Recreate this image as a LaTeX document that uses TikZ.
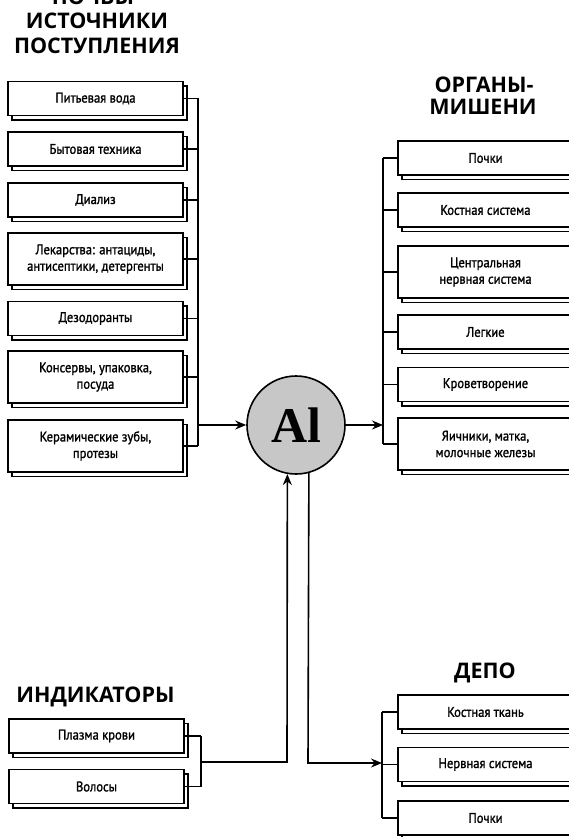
\documentclass[tikz,border=0pt]{standalone}
\usepackage{fontspec}
\usetikzlibrary{shadows,arrows.meta}
\newfontfamily\hfont{Open Sans}
\newfontfamily\bfont[FakeStretch=0.9,FakeBold=1.3]{PT Sans}
\newfontfamily\alfont{Liberation Serif}
\tikzset{
  boxstyle/.style={draw, line width=1.7pt, fill=white, minimum width=175pt, align=center,
    inner sep=0pt, font=\bfont\fontsize{14}{16.5}\selectfont,
    copy shadow={shadow xshift=4pt, shadow yshift=-4.5pt}},
  onel/.style={boxstyle, minimum height=34pt},
  twol/.style={boxstyle, minimum height=52pt},
  head/.style={font=\hfont\bfseries\fontsize{21.5}{24}\selectfont, anchor=base, inner sep=0pt},
  conn/.style={line width=1.6pt},
  arr/.style={line width=1.6pt, -{Stealth[length=11pt,width=9pt]}},
}
\begin{document}
\begin{tikzpicture}[x=1pt,y=-1pt]
\useasboundingbox (0,0) rectangle (569,837);
% headings
\node[head] (h0) at (93,5) {ПОЧВЫ};
\node[head] (h1) at (97,29) {ИСТОЧНИКИ};
\node[head] (h2) at (97,54) {ПОСТУПЛЕНИЯ};
\node[head] (h3) at (484,93) {ОРГАНЫ-};
\node[head] (h4) at (483,115) {МИШЕНИ};
\node[head] (h5) at (95.5,702) {ИНДИКАТОРЫ};
\node[head] (h6) at (485,678) {ДЕПО};
% source boxes
\node[onel] (s1) at (95.5,98.5) {Питьевая вода};
\node[onel] (s2) at (95.5,149) {Бытовая техника};
\node[onel] (s3) at (95.5,200) {Диализ};
\node[twol] (s4) at (95.5,259) {Лекарства: антациды,\\антисептики, детергенты};
\node[onel] (s5) at (95.5,318.5) {Дезодоранты};
\node[twol] (s6) at (95.5,377) {Консервы, упаковка,\\посуда};
\node[twol] (s7) at (95.5,446) {Керамические зубы,\\протезы};
% target organs
\node[onel] (t1) at (485.5,158) {Почки};
\node[onel] (t2) at (485.5,210) {Костная система};
\node[twol] (t3) at (485.5,272) {Центральная\\нервная система};
\node[onel] (t4) at (485.5,332) {Легкие};
\node[onel] (t5) at (485.5,384.5) {Кроветворение};
\node[twol] (t6) at (485.5,444) {Яичники, матка,\\молочные железы};
% indicators
\node[onel] (i1) at (96.5,736) {Плазма крови};
\node[onel] (i2) at (96.5,786.5) {Волосы};
% depot
\node[onel] (d1) at (485.5,712) {Костная ткань};
\node[onel] (d2) at (485.5,764.5) {Нервная система};
\node[onel] (d3) at (485.5,818) {Почки};
% Al
\node[circle, draw, line width=1.6pt, fill=black!22, minimum size=98pt, inner sep=0pt,
  font=\alfont\bfseries\fontsize{50}{50}\selectfont] (al) at (296,425) {Al};
% buses
\coordinate (bl) at (198,0);
\coordinate (br) at (383,0);
\coordinate (bi) at (201,0);
\coordinate (bd) at (382,0);
\foreach \n in {s1,s2,s3,s4,s5,s6,s7} \draw[conn] (\n.east) -- (\n.east -| bl);
\draw[conn] (s1.east -| bl) -- (s7.east -| bl);
\draw[arr] (al.west -| bl) -- (al.west);
\foreach \n in {t1,t2,t3,t4,t5,t6} \draw[conn] (\n.west) -- (\n.west -| br);
\draw[conn] (t1.west -| br) -- (t6.west -| br);
\draw[arr] (al.east) -- (al.east -| br);
\foreach \n in {i1,i2} \draw[conn] (\n.east) -- (\n.east -| bi);
\draw[conn] (i1.east -| bi) -- (i2.east -| bi);
\coordinate (ij) at (201,762);
\coordinate (ic) at (287,762);
\draw[arr] (ij) -- (ic) -- (al.-100.6);
\foreach \n in {d1,d2,d3} \draw[conn] (\n.west) -- (\n.west -| bd);
\draw[conn] (d1.west -| bd) -- (d3.west -| bd);
\coordinate (dc) at (308,763);
\draw[arr] (al.-75.8) -- (dc) -- (dc -| bd);
\end{tikzpicture}
\end{document}
